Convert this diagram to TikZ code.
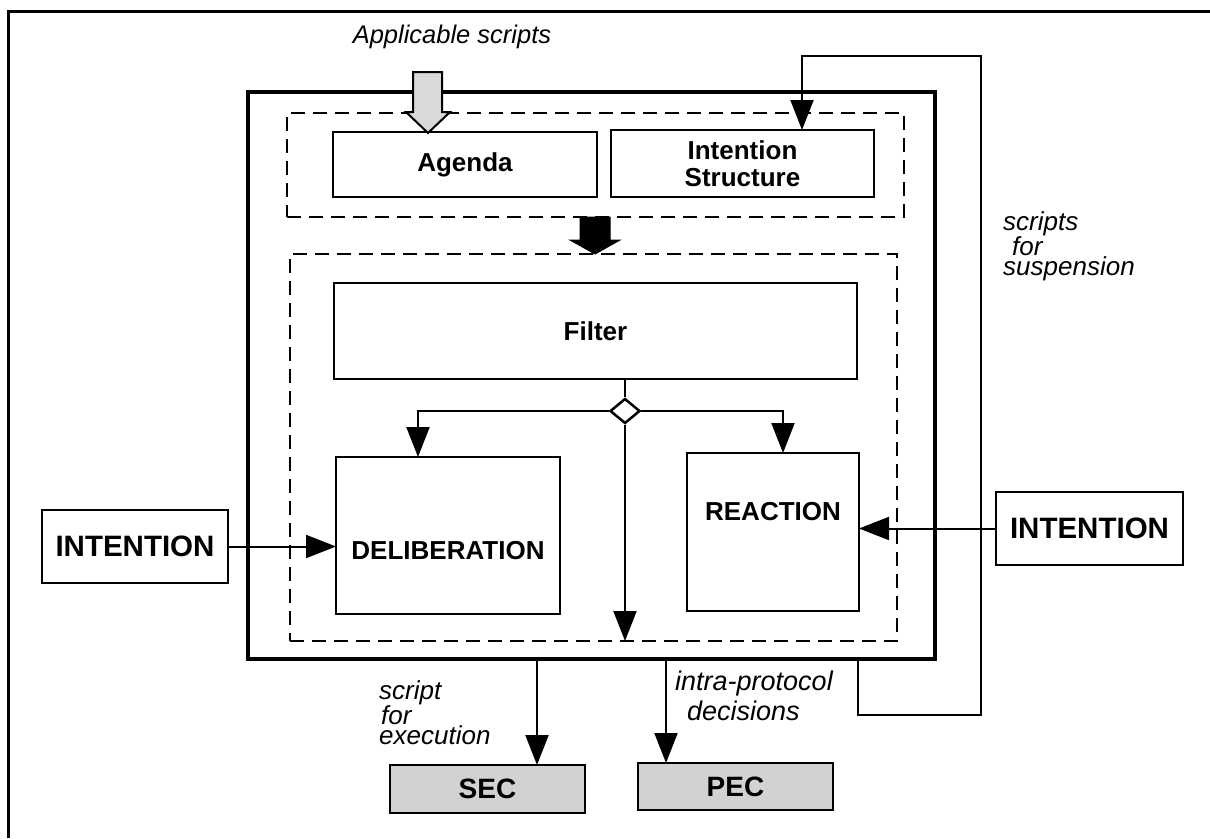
\documentclass[tikz,border=0pt]{standalone}
\usepackage{fontspec}
\setmainfont{Liberation Sans}
\usetikzlibrary{arrows.meta,shapes.geometric}
\begin{document}
\begin{tikzpicture}[x=1pt,y=-1pt,
  box/.style={draw, line width=2.4pt, inner sep=0pt, outer sep=0pt, font=\bfseries\fontsize{26}{27}\selectfont, align=center},
  dashbox/.style={draw, line width=2.2pt, dash pattern=on 14pt off 8pt, inner sep=0pt, outer sep=0pt},
  shadebox/.style={box, fill=gray!35, line width=2.5pt, font=\bfseries\fontsize{28}{28}\selectfont},
  conn/.style={line width=2pt},
  arr/.style={conn, -{Triangle[length=30pt,width=23pt]}},
  lbl/.style={font=\itshape\fontsize{26}{17.5}\selectfont, inner sep=0pt, align=left}
]
\useasboundingbox (0,0) rectangle (1210,838);
% page frame
\draw[line width=3pt] (8,838) -- (8,11) -- (1210,11);

% outer thick box
\node[draw, line width=4.5pt, inner sep=0pt, minimum width=687pt, minimum height=567pt] (outer) at (591.5,375.5) {};

% dashed groups
\node[dashbox, minimum width=617pt, minimum height=104pt] (top) at (595.5,165) {};
\node[dashbox, minimum width=607pt, minimum height=387pt] (low) at (593.5,447.5) {};

% boxes
\node[box, minimum width=264pt, minimum height=65pt] (agenda) at (465,164.5) {Agenda};
\node[box, minimum width=263pt, minimum height=67pt] (is) at (742.5,163.5) {Intention\\Structure};
\node[box, minimum width=523pt, minimum height=96pt] (filter) at (595.5,331) {Filter};
\node[draw, diamond, line width=2.5pt, inner sep=0pt, minimum width=30pt, minimum height=25pt] (dia) at (625,411) {};
\node[box, minimum width=224pt, minimum height=157pt, text height=48pt, text depth=0pt] (delib) at (448,535.5) {DELIBERATION};
\node[box, minimum width=172pt, minimum height=158pt, text height=19pt, text depth=42pt] (react) at (773,532) {REACTION};
\node[box, minimum width=186pt, minimum height=73pt, font=\bfseries\fontsize{29.5}{30}\selectfont] (intl) at (135,546.5) {INTENTION};
\node[box, minimum width=187pt, minimum height=73pt, font=\bfseries\fontsize{29.5}{30}\selectfont] (intr) at (1089.5,528.5) {INTENTION};
\node[shadebox, minimum width=195pt, minimum height=48pt] (sec) at (487.5,789) {SEC};
\node[shadebox, minimum width=195pt, minimum height=47pt] (pec) at (735.5,786.5) {PEC};

% labels
\node[lbl, font=\itshape\fontsize{25.5}{26}\selectfont] (applic) at (452,37) {Applicable scripts};
\node[lbl, anchor=west] (susp) at (1003,246) {scripts\\\hspace{9pt}for\\suspension};
\node[lbl, anchor=west] (exec) at (379,713) {script\\\hspace{2pt}for\\execution};
\node[lbl, anchor=west, font=\itshape\fontsize{27}{30}\selectfont] (intra) at (675,696) {intra-protocol\\\hspace{12pt}decisions};

% block arrows
\draw[line width=2pt, fill=gray!30] (413,72) -- (442,72) -- (442,112) -- (450,112) -- (428,133) -- (406,112) -- (413,112) -- cycle;
\draw[line width=1pt, fill=black] (580,217) -- (610,217) -- (610,240) -- (620,240) -- (595,254) -- (570,240) -- (580,240) -- cycle;

% connectors
\draw[conn] (dia.north |- filter.south) -- (dia.north);
\draw[arr] (dia.west) -- (418,411) -- (418,0 |- delib.north);
\draw[arr] (dia.east) -- (783,411) -- (783,0 |- react.north);
\draw[arr] (dia.south) -- (dia.south |- low.south);
\draw[arr] (intl.east) -- (delib.west |- intl.east);
\draw[arr] (intr.west) -- (react.east |- intr.west);
\draw[arr] (537,0 |- outer.south) -- (537,0 |- sec.north);
\draw[arr] (666,0 |- outer.south) -- (666,0 |- pec.north);
\draw[arr] (858,0 |- outer.south) -- (858,715) -- (981,715) -- (981,56) -- (802,56) -- (802,0 |- is.north);
\end{tikzpicture}
\end{document}
